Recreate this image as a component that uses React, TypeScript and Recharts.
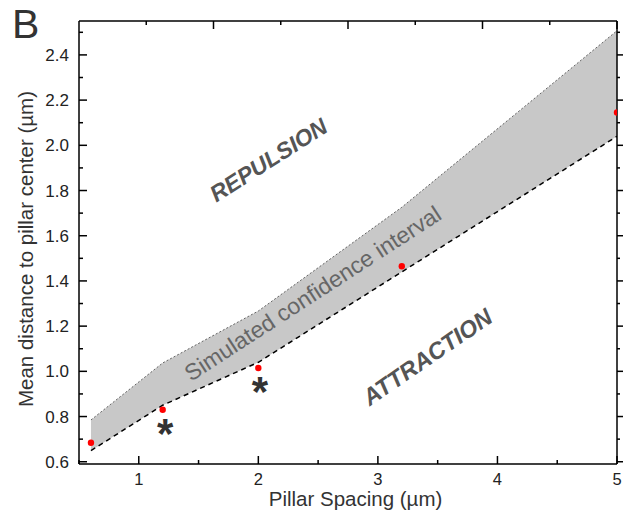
import React from 'react';
import { ComposedChart, Area, Line, Scatter, XAxis, YAxis } from 'recharts';

// Pillar spacing (µm)
const spacing = [0.6, 1.2, 2.0, 3.2, 5.0];
// Simulated confidence interval bounds
const lowerBound = [0.649, 0.85, 1.04, 1.44, 2.04];
const upperBound = [0.785, 1.037, 1.267, 1.726, 2.507];
// Measured mean distance
const measured = [0.684, 0.83, 1.015, 1.465, 2.145];

// Significance markers
const starX = [1.22, 2.014];
const starY = [0.749, 0.935];

// Region annotations
const noteText = ['REPULSION', 'Simulated confidence interval', 'ATTRACTION'];
const noteX = [2.085, 2.455, 3.415];
const noteY = [1.935, 1.345, 1.063];

const xTicks = [0.5, 1, 1.5, 2, 2.5, 3, 3.5, 4, 4.5, 5];
const yTicks = [0.6, 0.7, 0.8, 0.9, 1.0, 1.1, 1.2, 1.3, 1.4, 1.5, 1.6, 1.7, 1.8, 1.9, 2.0, 2.1, 2.2, 2.3, 2.4, 2.5];
const yMajor = [0.6, 0.8, 1.0, 1.2, 1.4, 1.6, 1.8, 2.0, 2.2, 2.4];

const data = spacing.map((x, i) => ({
  x,
  band: [lowerBound[i], upperBound[i]],
  low: lowerBound[i],
  high: upperBound[i],
  m: measured[i],
}));
const stars = starX.map((x, i) => ({ x, y: starY[i] }));
const notes = noteText.map((t, i) => ({ x: noteX[i], y: noteY[i], text: t }));

const FONT = '"Liberation Sans", Arial, Helvetica, sans-serif';

const noteStyle: Record<string, any> = {
  REPULSION: { angle: -32.5, size: 23, weight: 'bold', style: 'italic', color: '#555555' },
  'Simulated confidence interval': { angle: -33, size: 23, weight: 'normal', style: 'normal', color: '#666666' },
  ATTRACTION: { angle: -34.5, size: 23.5, weight: 'bold', style: 'italic', color: '#555555' },
};

const isMajorY = (v: number) => yMajor.some((m) => Math.abs(m - v) < 1e-6);

const BottomTick = (props: any) => {
  const { x, y, payload } = props;
  const v = payload.value;
  const major = Number.isInteger(v);
  return (
    <g>
      <line x1={x} x2={x} y1={y} y2={y - (major ? 8 : 4)} stroke="#000" strokeWidth={1.5} />
      {major && (
        <text x={x} y={y + 21} textAnchor="middle" fontSize={16.5} fontFamily={FONT} fill="#222">
          {v}
        </text>
      )}
    </g>
  );
};

const TopTick = (props: any) => {
  const { x, y, payload } = props;
  const major = Number.isInteger(payload.value);
  return <line x1={x} x2={x} y1={y} y2={y + (major ? 8 : 4)} stroke="#000" strokeWidth={1.5} />;
};

const LeftTick = (props: any) => {
  const { x, y, payload } = props;
  const v = payload.value;
  const major = isMajorY(v);
  return (
    <g>
      <line x1={x} x2={x + (major ? 8 : 4)} y1={y} y2={y} stroke="#000" strokeWidth={1.5} />
      {major && (
        <text x={x - 10} y={y + 6} textAnchor="end" fontSize={17} fontFamily={FONT} fill="#222">
          {v.toFixed(1)}
        </text>
      )}
    </g>
  );
};

const RightTick = (props: any) => {
  const { x, y, payload } = props;
  const major = isMajorY(payload.value);
  return <line x1={x} x2={x + (major ? 6 : 3)} y1={y} y2={y} stroke="#000" strokeWidth={1.5} />;
};

const Dot = (props: any) => {
  const { cx, cy } = props;
  return <circle cx={cx} cy={cy} r={3.2} fill="#ff0000" />;
};

const Star = (props: any) => {
  const { cx, cy } = props;
  return (
    <text x={cx} y={cy + 20} textAnchor="middle" fontSize={42} fontWeight="bold" fontFamily={FONT} fill="#333">
      *
    </text>
  );
};

const Note = (props: any) => {
  const { cx, cy, payload } = props;
  const s = noteStyle[payload.text];
  return (
    <text
      x={cx}
      y={cy}
      transform={`rotate(${s.angle} ${cx} ${cy})`}
      textAnchor="middle"
      dominantBaseline="central"
      fontSize={s.size}
      fontWeight={s.weight}
      fontStyle={s.style}
      fontFamily={FONT}
      fill={s.color}
    >
      {payload.text}
    </text>
  );
};

export default function App() {
  return (
    <div style={{ position: 'absolute', left: 0, top: 0, width: 624, height: 515, background: '#fff' }}>
      <ComposedChart width={624} height={515} data={data} margin={{ top: 20, right: 0, bottom: 21, left: 19 }}>
        <XAxis
          xAxisId={0}
          dataKey="x"
          type="number"
          domain={[0.5, 5]}
          ticks={xTicks}
          interval={0}
          tickSize={0}
          tickMargin={0}
          tickLine={false}
          tick={<BottomTick />}
          axisLine={{ stroke: '#000', strokeWidth: 1.5 }}
          height={30}
          allowDataOverflow
        />
        <XAxis
          xAxisId="top"
          orientation="top"
          type="number"
          domain={[0.5, 5]}
          ticks={xTicks}
          interval={0}
          tickSize={0}
          tickMargin={0}
          tickLine={false}
          tick={<TopTick />}
          axisLine={{ stroke: '#000', strokeWidth: 1.5 }}
          height={1}
          allowDataOverflow
        />
        <YAxis
          yAxisId={0}
          type="number"
          domain={[0.59, 2.55]}
          ticks={yTicks}
          interval={0}
          tickSize={0}
          tickMargin={0}
          tickLine={false}
          tick={<LeftTick />}
          axisLine={{ stroke: '#000', strokeWidth: 1.5 }}
          width={60}
          allowDataOverflow
        />
        <YAxis
          yAxisId="right"
          orientation="right"
          type="number"
          domain={[0.59, 2.55]}
          ticks={yTicks}
          interval={0}
          tickSize={0}
          tickMargin={0}
          tickLine={false}
          tick={<RightTick />}
          axisLine={{ stroke: '#000', strokeWidth: 1.5 }}
          width={7}
          allowDataOverflow
        />
        <Area
          dataKey="band"
          type="linear"
          fill="#c8c8c8"
          fillOpacity={1}
          stroke="none"
          isAnimationActive={false}
          activeDot={false}
        />
        <Line
          dataKey="high"
          type="linear"
          stroke="#444"
          strokeWidth={0.8}
          strokeDasharray="2 2"
          dot={false}
          activeDot={false}
          isAnimationActive={false}
        />
        <Line
          dataKey="low"
          type="linear"
          stroke="#000"
          strokeWidth={1.5}
          strokeDasharray="5 4"
          dot={false}
          activeDot={false}
          isAnimationActive={false}
        />
        <Scatter data={notes} dataKey="y" shape={<Note />} isAnimationActive={false} />
        <Scatter dataKey="m" shape={<Dot />} isAnimationActive={false} />
        <Scatter data={stars} dataKey="y" shape={<Star />} isAnimationActive={false} />
      </ComposedChart>
      <svg width={624} height={515} style={{ position: 'absolute', left: 0, top: 0, pointerEvents: 'none' }}>
        <text x={12} y={38} fontSize={41} fontFamily={FONT} fill="#333">
          B
        </text>
        <text x={355.5} y={506} textAnchor="middle" fontSize={20.5} fontFamily={FONT} fill="#333">
          Pillar Spacing (µm)
        </text>
        <text
          x={33}
          y={249}
          transform="rotate(-90 33 249)"
          textAnchor="middle"
          fontSize={20.5}
          fontFamily={FONT}
          fill="#333"
        >
          Mean distance to pillar center (µm)
        </text>
      </svg>
    </div>
  );
}
